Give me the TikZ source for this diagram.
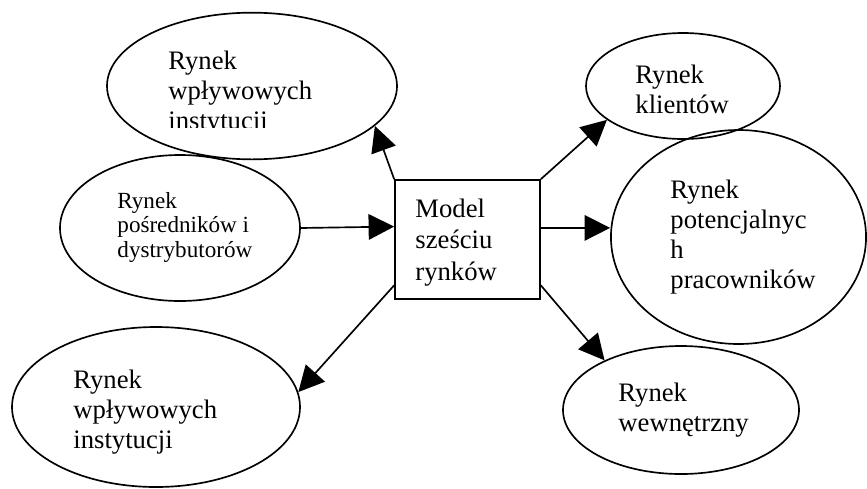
\documentclass[tikz,border=0pt]{standalone}
\usepackage{fontspec}
\setmainfont{Liberation Serif}
\usetikzlibrary{shapes.geometric, arrows.meta}

\begin{document}
\begin{tikzpicture}[x=0.45pt, y=-0.45pt,
            rynek/.style={draw=black, line width=0.75pt, ellipse, inner sep=0pt},
            model/.style={draw=black, line width=0.75pt, rectangle, inner sep=0pt, minimum width=65.25pt, minimum height=53.55pt},
            opis/.style={anchor=base west, align=left, inner sep=0pt, font=\fontsize{12}{13.5}\selectfont},
            strzalka/.style={line width=0.75pt, -{Triangle[length=11.5pt, width=11.5pt]}}
        ]
        \useasboundingbox (0,0) rectangle (867,488);

        % Wezly
        \node[model] (model) at (467.5,239.5) {};
        \node[rynek, minimum width=130.5pt, minimum height=66pt] (instGora) at (252,86) {};
        \node[rynek, minimum width=108pt, minimum height=65.7pt] (posrednicy) at (180,228) {};
        \node[rynek, minimum width=129.6pt, minimum height=72pt] (instDol) at (156,407) {};
        \node[rynek, minimum width=87.3pt, minimum height=47.7pt] (klienci) at (683,86) {};
        \node[rynek, minimum width=114.8pt, minimum height=96.3pt] (pracownicy) at (738.5,237) {};
        \node[rynek, minimum width=106.2pt, minimum height=57.6pt] (wewnetrzny) at (681,410) {};

        % Opisy (punkt bazowy = ostatnia linia)
        \begin{scope}
            \clip (0,0) rectangle (867,127);
            \node[opis] (tInstGora) at (168,129) {Rynek\\wpływowych\\instytucji};
        \end{scope}
        \node[opis, font=\fontsize{10.4}{11}\selectfont] (tPosrednicy) at (117,257) {Rynek\\pośredników i\\dystrybutorów};
        \node[opis] (tInstDol) at (73,448) {Rynek\\wpływowych\\instytucji};
        \node[opis, font=\fontsize{12}{14}\selectfont] (tModel) at (415,280) {Model\\sześciu\\rynków};
        \node[opis] (tKlienci) at (635,113) {Rynek\\klientów};
        \node[opis] (tPracownicy) at (670,288) {Rynek\\potencjalnyc\\h\\pracowników};
        \node[opis] (tWewnetrzny) at (618,431) {Rynek\\wewnętrzny};

        % Strzalki
        \draw[strzalka] (model.north west) -- (instGora.-18);
        \draw[strzalka] (posrednicy.east) -- (model.170.5);
        \draw[strzalka] (model.212) -- (instDol.6);
        \draw[strzalka] (model.north east) -- (klienci.204);
        \draw[strzalka] (model.9.5) -- (model.9.5 -| pracownicy.west);
        \draw[strzalka] (model.-32) -- (wewnetrzny.147);

    \end{tikzpicture}
\end{document}
